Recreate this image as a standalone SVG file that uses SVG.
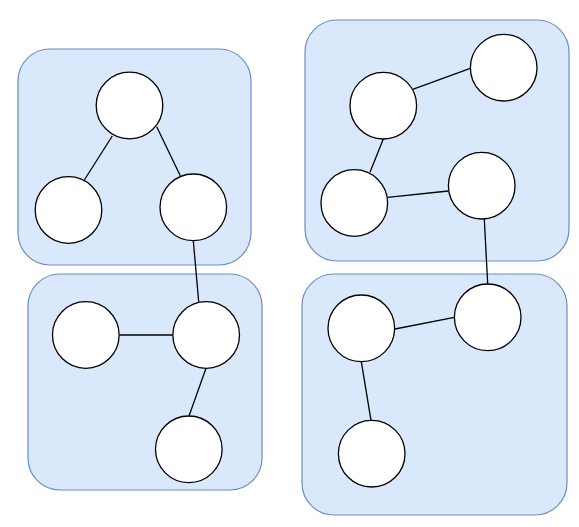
<svg xmlns="http://www.w3.org/2000/svg" width="579" height="527" viewBox="0 0 579 527">
<style>
.grp{fill:#dae8fc;stroke:#6c8ebf;stroke-width:1.2}
.n{fill:#ffffff;stroke:#000000;stroke-width:1.3}
.e{stroke:#000000;stroke-width:1.3;fill:none}
</style>
<rect width="579" height="527" fill="#ffffff"/>
<g id="groups">
<rect id="group1" class="grp" x="18" y="49" width="233" height="216" rx="32" ry="32"/>
<rect id="group2" class="grp" x="305" y="20" width="264" height="241" rx="32" ry="32"/>
<rect id="group3" class="grp" x="28" y="274" width="234" height="216" rx="32" ry="32"/>
<rect id="group4" class="grp" x="302" y="274" width="265" height="241" rx="32" ry="32"/>
</g>
<g id="connectors">
<line class="e" x1="112.3" y1="136" x2="84.3" y2="180"/>
<line class="e" x1="156.7" y1="126.7" x2="180.3" y2="175.7"/>
<line class="e" x1="193.3" y1="240.7" x2="198.7" y2="301.7"/>
<line class="e" x1="119.3" y1="335" x2="172.7" y2="335"/>
<line class="e" x1="206" y1="368.3" x2="189" y2="416"/>
<line class="e" x1="412.7" y1="89.3" x2="470.3" y2="68.3"/>
<line class="e" x1="383.3" y1="139" x2="370" y2="172.3"/>
<line class="e" x1="387.7" y1="197.3" x2="448.3" y2="191"/>
<line class="e" x1="484.3" y1="219" x2="487.7" y2="284"/>
<line class="e" x1="395" y1="329" x2="454.3" y2="317.3"/>
<line class="e" x1="361.3" y1="361.7" x2="371" y2="420.3"/>
</g>
<g id="nA"><circle class="n" cx="129.5" cy="105.5" r="33.3"/></g>
<g id="nB"><circle class="n" cx="68.5" cy="210" r="33.3"/></g>
<g id="nC"><circle class="n" cx="193.3" cy="207.3" r="33.3"/></g>
<g id="nD"><circle class="n" cx="85.8" cy="335" r="33.3"/></g>
<g id="nE"><circle class="n" cx="206.2" cy="335" r="33.3"/></g>
<g id="nF"><circle class="n" cx="188.8" cy="449.3" r="33.3"/></g>
<g id="nG"><circle class="n" cx="383.3" cy="105.7" r="33.3"/></g>
<g id="nH"><circle class="n" cx="503.7" cy="67.7" r="33.3"/></g>
<g id="nI"><circle class="n" cx="354.3" cy="203" r="33.3"/></g>
<g id="nJ"><circle class="n" cx="481.7" cy="185.7" r="33.3"/></g>
<g id="nK"><circle class="n" cx="487.7" cy="317.3" r="33.3"/></g>
<g id="nL"><circle class="n" cx="361.3" cy="328.3" r="33.3"/></g>
<g id="nM"><circle class="n" cx="371.7" cy="453.7" r="33.3"/></g>
</svg>
